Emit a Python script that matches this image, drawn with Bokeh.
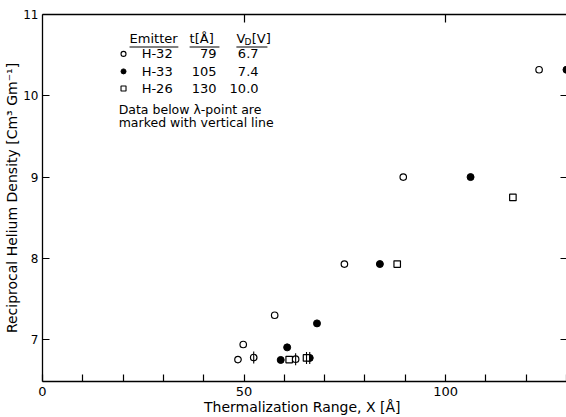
import numpy as np
from bokeh.plotting import figure
from bokeh.models import Range1d, FixedTicker, LinearAxis, ColumnDataSource
from bokeh.core.properties import value
from bokeh.embed import file_html
from bokeh.resources import INLINE

# ---- data ----
h32_x = [48.5, 49.8, 52.4, 57.6, 62.8, 74.9, 89.5, 123.2]
h32_y = [6.755, 6.94, 6.78, 7.30, 6.76, 7.93, 9.00, 10.32]
h32_lambda = [0, 0, 1, 0, 1, 0, 0, 0]

h33_x = [59.1, 60.7, 66.3, 68.1, 83.7, 106.2, 130.0]
h33_y = [6.75, 6.905, 6.775, 7.20, 7.93, 9.00, 10.32]
h33_lambda = [0, 0, 1, 0, 0, 0, 0]

h26_x = [61.2, 65.5, 88.0, 116.7]
h26_y = [6.755, 6.775, 7.93, 8.75]
h26_lambda = [0, 1, 0, 0]

emitters = ["H-32", "H-33", "H-26"]
thickness = ["79", "105", "130"]
vd_values = ["6.7", "7.4", "10.0"]
note_lines = ["Data below \u03bb-point are", "marked with vertical line"]

x_ticks = list(range(0, 140, 10))
x_tick_labels = {0: "0", 50: "50", 100: "100"}
y_ticks = [7, 8, 9, 10, 11]
x_title = "Thermalization Range, X  [\u00c5]"
y_title = "Reciprocal Helium Density [Cm\u00b3 Gm\u207b\u00b9]"

FONT = "DejaVu Sans"

p = figure(width=566, height=417, output_backend="svg", toolbar_location=None,
           x_range=Range1d(0, 130.0), y_range=Range1d(6.485, 11.0),
           min_border_left=42, min_border_right=0, min_border_top=14,
           min_border_bottom=35, x_axis_label=x_title, y_axis_label=y_title)
p.outline_line_color = None
p.grid.visible = False
p.background_fill_color = "white"
p.border_fill_color = "white"

xa = p.xaxis[0]
xa.ticker = FixedTicker(ticks=x_ticks)
xa.major_label_overrides = {t: x_tick_labels.get(t, "") for t in x_ticks}
ya = p.yaxis[0]
ya.ticker = FixedTicker(ticks=y_ticks)

for ax in (xa, ya):
    ax.major_tick_in = 7
    ax.major_tick_out = 0
    ax.minor_tick_line_color = None
    ax.axis_line_width = 1.3
    ax.major_tick_line_width = 1.2
    ax.major_label_text_font = FONT
    ax.major_label_text_color = "black"
    ax.axis_label_text_font = FONT
    ax.axis_label_text_font_size = "14px"
    ax.axis_label_text_font_style = "normal"
    ax.axis_label_text_color = "black"
    ax.axis_label_standoff = 0
xa.major_label_text_font_size = "13px"
ya.major_label_text_font_size = "12px"
xa.major_label_standoff = 5
ya.major_label_standoff = 4
ya.major_label_orientation = "horizontal"

top = LinearAxis(ticker=FixedTicker(ticks=[50, 100]), major_label_text_font_size="1px",
                 major_label_text_color=None,
                 major_tick_in=8, major_tick_out=0, minor_tick_line_color=None,
                 major_label_standoff=0, axis_line_width=1.3, major_tick_line_width=1.2)
p.add_layout(top, "above")
right = LinearAxis(ticker=FixedTicker(ticks=[7, 8, 9, 10]), major_label_text_font_size="1px",
                   major_label_text_color=None,
                   major_tick_in=6, major_tick_out=0, minor_tick_line_color=None,
                   major_label_standoff=0, axis_line_color=None, major_tick_line_width=1.2)
p.add_layout(right, "right")

# ---- points ----
p.scatter(h32_x, h32_y, marker="circle", size=6.5, fill_color="white",
          line_color="black", line_width=1.2)
p.scatter(h33_x, h33_y, marker="circle", size=7, fill_color="black",
          line_color="black")
p.scatter(h26_x, h26_y, marker="square", size=6.5, fill_color="white",
          line_color="black", line_width=1.2)

all_x = h32_x + h33_x + h26_x
all_y = h32_y + h33_y + h26_y
all_f = h32_lambda + h33_lambda + h26_lambda
lam_x = [x for x, f in zip(all_x, all_f) if f]
lam_y = [y for y, f in zip(all_y, all_f) if f]
p.scatter(lam_x, lam_y, marker="dash", angle=np.pi / 2, size=12,
          line_color="black", line_width=1.1)

# ---- key ----
row_y = [10.515, 10.30, 10.09]
key_src = ColumnDataSource(dict(name=emitters, t=thickness, vd=vd_values, y=row_y,
                                nx=[24.6] * 3, tx=[43.2] * 3, vx=[53.6] * 3))
p.scatter([20.1], [row_y[0]], marker="circle", size=5, fill_color="white",
          line_color="black", line_width=1.1)
p.scatter([20.1], [row_y[1]], marker="circle", size=5, fill_color="black",
          line_color="black")
p.scatter([20.1], [row_y[2]], marker="square", size=5, fill_color="white",
          line_color="black", line_width=1.1)
common = dict(text_font=value(FONT), text_font_size="13px", text_color="black",
              text_baseline="middle")
p.text(x="nx", y="y", text="name", source=key_src, text_align="left", **common)
p.text(x="tx", y="y", text="t", source=key_src, text_align="right", **common)
p.text(x="vx", y="y", text="vd", source=key_src, text_align="right", **common)

hy = 10.70
p.text([21.6], [hy], text=["Emitter"], text_align="left", **common)
p.text([36.5], [hy], text=["t[\u00c5]"], text_align="left", **common)
p.text([48.1], [hy], text=["V"], text_align="left", **common)
p.text([50.1], [hy - 0.04], text=["D"], text_align="left",
       text_font=value(FONT), text_font_size="9px", text_color="black",
       text_baseline="middle")
p.text([51.9], [hy], text=["[V]"], text_align="left", **common)
p.segment(x0=[21.6, 36.5, 48.1], y0=[10.60] * 3, x1=[33.7, 43.9, 55.8], y1=[10.60] * 3,
          line_color="black", line_width=1.1)

note_common = dict(common)
note_common["text_font_size"] = "12.5px"
p.text([18.9, 18.9], [9.834, 9.675], text=note_lines, text_align="left", **note_common)

open("out.html", "w").write(file_html(p, INLINE))
